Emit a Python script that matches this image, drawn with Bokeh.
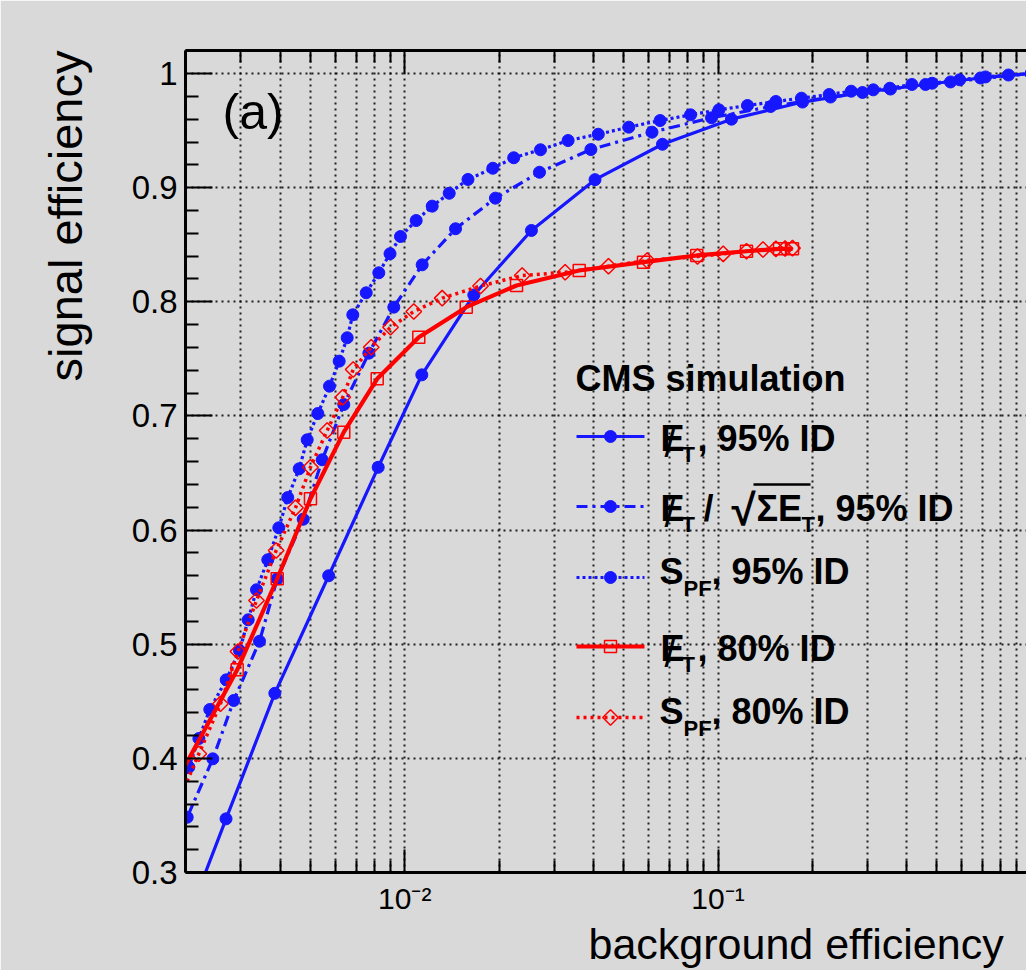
import math
from bokeh.plotting import figure
from bokeh.models import Range1d, LogAxis, FixedTicker, Label, CustomJSTickFormatter, Title
from bokeh.embed import file_html
from bokeh.resources import INLINE

# ---------------- data ----------------
# MET, 95% ID  (blue solid, filled circles)
met95_x = [0.0019, 0.00269, 0.00385, 0.00572, 0.00823, 0.01134, 0.01662, 0.02538,
           0.0405, 0.0665, 0.1104, 0.1861, 0.2892, 0.4595, 0.6884, 1.0]
met95_y = [0.239, 0.347, 0.457, 0.560, 0.655, 0.736, 0.806, 0.8625,
           0.907, 0.938, 0.960, 0.975, 0.9834, 0.9904, 0.9961, 1.0]

# MET / sqrt(SumET), 95% ID  (blue dash-dot, filled circles)
metsig95_x = [0.0019, 0.002022, 0.002441, 0.002847, 0.00344, 0.003918, 0.004743, 0.005454,
              0.006391, 0.007684, 0.009231, 0.01137, 0.01453, 0.01948, 0.02693, 0.03929,
              0.06157, 0.09535, 0.1472, 0.2286, 0.3553, 0.5522, 1.0]
metsig95_y = [0.331, 0.3484, 0.3996, 0.4507, 0.5026, 0.5573, 0.6095, 0.6616,
              0.7100, 0.7550, 0.7953, 0.8324, 0.8640, 0.8908, 0.9135, 0.9334,
              0.9486, 0.9612, 0.9711, 0.9794, 0.9864, 0.9926, 1.0]

# S_PF, 95% ID  (blue dotted, filled circles)
spf95_x = [0.0019, 0.002046, 0.002203, 0.002387, 0.002693, 0.00297, 0.003166, 0.003365,
           0.003656, 0.003964, 0.004234, 0.004605, 0.004884, 0.005281, 0.005754, 0.006178,
           0.006553, 0.006828, 0.007537, 0.008267, 0.008977, 0.009696, 0.01088, 0.01224,
           0.01387, 0.01592, 0.01911, 0.02228, 0.02713, 0.03323, 0.04149, 0.05191,
           0.06535, 0.08171, 0.1007, 0.1242, 0.1530, 0.1847, 0.2264, 0.2662,
           0.3131, 0.3535, 0.4158, 0.4826, 0.5907, 0.7141, 0.8455, 1.0]
spf95_y = [0.3666, 0.3923, 0.4174, 0.4428, 0.4688, 0.4945, 0.5214, 0.5477,
           0.5740, 0.6020, 0.6285, 0.6537, 0.6791, 0.7021, 0.7261, 0.7480,
           0.7685, 0.7886, 0.8079, 0.8254, 0.8421, 0.8572, 0.8712, 0.8838,
           0.8951, 0.9072, 0.9170, 0.9262, 0.9332, 0.9413, 0.9468, 0.9530,
           0.9588, 0.9638, 0.9682, 0.9720, 0.9755, 0.9784, 0.9816, 0.9845,
           0.9857, 0.9871, 0.9904, 0.9915, 0.9945, 0.9970, 0.9987, 1.0]

# MET, 80% ID  (red solid, open squares)
met80_x = [0.0019, 0.00292, 0.003918, 0.005003, 0.006391, 0.00817, 0.01109, 0.01572,
           0.02275, 0.03606, 0.05784, 0.08556, 0.1233, 0.1572, 0.1729]
met80_y = [0.3832, 0.4776, 0.5573, 0.6274, 0.6858, 0.7325, 0.7690, 0.7953,
           0.8143, 0.8274, 0.8347, 0.8406, 0.8443, 0.8464, 0.8464]

# S_PF, 80% ID  (red dotted, open diamonds)
spf80_x = [0.0019, 0.002203, 0.002582, 0.002937, 0.003365, 0.003888, 0.004481, 0.005003,
           0.005657, 0.006344, 0.006849, 0.007819, 0.00901, 0.01069, 0.01317, 0.01746,
           0.02371, 0.03252, 0.04472, 0.05943, 0.08602, 0.1039, 0.1233, 0.1392,
           0.1530, 0.1637, 0.1729]
spf80_y = [0.3631, 0.4040, 0.4478, 0.4936, 0.5383, 0.5821, 0.6195, 0.6551,
           0.6872, 0.7164, 0.7407, 0.7602, 0.7777, 0.7915, 0.8032, 0.8138,
           0.8230, 0.8259, 0.8312, 0.8362, 0.8397, 0.8420, 0.8443, 0.8458,
           0.8464, 0.8467, 0.8470]

# ticks
x_major_ticks = [0.01, 0.1]
x_tick_labels = ["10\u207b\u00b2", "10\u207b\u00b9"]
y_ticks = [0.3, 0.4, 0.5, 0.6, 0.7, 0.8, 0.9, 1.0]
y_tick_labels = ["0.3", "0.4", "0.5", "0.6", "0.7", "0.8", "0.9", "1"]

# ---------------- style ----------------
FONT = "Liberation Sans"
BG = "#d9d9d9"
BLUE = "#1616ff"
RED = "#ff0000"

DEC = 313.3
X10 = 404.2
FL, FB = 185, 872   # frame left / bottom in canvas pixels


def X(px):
    return 10 ** (-2 + (px - X10) / DEC)


def Y(py):
    return 0.3 + (FB - py) / 1141.4


p = figure(width=1026, height=970, x_axis_type="log",
           x_range=Range1d(X(FL), X(1026)), y_range=Range1d(0.3, Y(50)),
           output_backend="svg", toolbar_location=None,
           min_border_left=FL, min_border_right=0, min_border_top=50, min_border_bottom=970 - FB)
p.background_fill_color = BG
p.border_fill_color = BG
p.outline_line_color = None

x_minor = [m * 10.0 ** e for e in (-3, -2, -1) for m in range(2, 10)]
xticker = FixedTicker(ticks=x_major_ticks, minor_ticks=x_minor)
y_minor = [round(0.3 + 0.02 * i, 2) for i in range(37) if i % 5 != 0]
yticker = FixedTicker(ticks=y_ticks, minor_ticks=y_minor)


def style_axis(ax, maj=24, mnr=12):
    ax.axis_line_width = 3
    ax.axis_line_color = "black"
    ax.major_tick_in = maj
    ax.major_tick_out = 0
    ax.minor_tick_in = mnr
    ax.minor_tick_out = 0
    ax.major_tick_line_width = 2
    ax.minor_tick_line_width = 2
    ax.major_tick_line_color = "black"
    ax.minor_tick_line_color = "black"


xa = p.xaxis[0]
xa.ticker = xticker
xa.major_label_overrides = {v: s for v, s in zip(x_major_ticks, x_tick_labels)}
xa.major_label_text_font = FONT
xa.major_label_text_font_size = "30px"
xa.major_label_text_color = "black"
xa.major_label_standoff = 9
style_axis(xa, 23, 12)

top = LogAxis(ticker=xticker, formatter=CustomJSTickFormatter(code="return ''"))
style_axis(top, 23, 12)
p.add_layout(top, "above")

ya = p.yaxis[0]
ya.ticker = yticker
ya.major_label_overrides = {v: s for v, s in zip(y_ticks, y_tick_labels)}
style_axis(ya, 27, 13)
ya.major_label_text_font = FONT
ya.major_label_text_font_size = "33px"
ya.major_label_text_color = "black"
ya.major_label_standoff = 8

# axis titles (ROOT style: right-aligned at the end of the axes)
p.add_layout(Title(text="signal efficiency", align="right", text_font=FONT,
                   text_font_size="47px", text_font_style="normal",
                   text_color="black", standoff=73), "left")
p.add_layout(Title(text="background efficiency", align="left", offset=403,
                   text_font=FONT, text_font_size="43px", text_font_style="normal",
                   text_color="black", standoff=0), "below")

p.xgrid.ticker = xticker
p.ygrid.ticker = yticker
for g in (p.xgrid, p.ygrid):
    g.grid_line_color = "black"
    g.grid_line_dash = "2 4"
    g.grid_line_width = 2
    g.grid_line_alpha = 0.85
p.xgrid.minor_grid_line_color = "black"
p.xgrid.minor_grid_line_dash = "2 4"
p.xgrid.minor_grid_line_width = 2
p.xgrid.minor_grid_line_alpha = 0.85

# ---------------- curves ----------------
CS, SQ = 12, 12
p.line(met95_x, met95_y, color=BLUE, line_width=3.2)
p.scatter(met95_x, met95_y, marker="circle", size=CS, color=BLUE)

p.line(metsig95_x, metsig95_y, color=BLUE, line_width=3.2, line_dash="11 5 3 5")
p.scatter(metsig95_x, metsig95_y, marker="circle", size=CS, color=BLUE)

p.line(spf95_x, spf95_y, color=BLUE, line_width=3.2, line_dash="3 3")
p.scatter(spf95_x, spf95_y, marker="circle", size=CS, color=BLUE)

p.line(met80_x, met80_y, color=RED, line_width=4.2)
p.scatter(met80_x, met80_y, marker="square", size=SQ, fill_color=None,
          line_color=RED, line_width=1.5)

p.line(spf80_x, spf80_y, color=RED, line_width=3.5, line_dash="3 4")
p.scatter(spf80_x, spf80_y, marker="square", angle=math.pi / 4, size=11,
          fill_color=None, line_color=RED, line_width=1.5)

SHIFT = 0.33  # empirical baseline correction (fraction of font size)


# ---------------- texts inside the frame ----------------
def lab(px, py, text, size, bold=False, align="left"):
    py = py - SHIFT * size
    p.add_layout(Label(x=X(px), y=Y(py), text=text, text_font=FONT,
                       text_font_size=f"{size}px",
                       text_font_style="bold" if bold else "normal",
                       text_align=align, text_baseline="alphabetic",
                       text_color="black"))


lab(222, 128, "(a)", 50)
lab(575, 390, "CMS simulation", 36, bold=True)

# legend samples
LX0, LX1, LXM = 576, 644, 610
entries = [
    (436, BLUE, None, 3.2, "circle"),
    (506, BLUE, "11 5 3 5", 3.2, "circle"),
    (577, BLUE, "3 3", 3.2, "circle"),
    (646, RED, None, 4.2, "square"),
    (717, RED, "3 4", 3.5, "diamond"),
]
for (ly, col, dash, lw, mk) in entries:
    kw = dict(color=col, line_width=lw)
    if dash:
        kw["line_dash"] = dash
    p.line([X(LX0), X(LX1)], [Y(ly), Y(ly)], **kw)
    if mk == "circle":
        p.scatter([X(LXM)], [Y(ly)], marker="circle", size=CS, color=col)
    elif mk == "square":
        p.scatter([X(LXM)], [Y(ly)], marker="square", size=SQ, fill_color=None,
                  line_color=col, line_width=1.5)
    else:
        p.scatter([X(LXM)], [Y(ly)], marker="square", angle=math.pi / 4, size=11,
                  fill_color=None, line_color=col, line_width=1.5)


def met(px, py):
    # E with a slash through it (missing transverse energy)
    lab(px, py, "E", 36, bold=True)
    lab(px + 4, py + 6, "/", 40)
    lab(px + 21, py + 11, "T", 22, bold=True)


# entry 1
met(660, 450)
lab(697, 450, ", 95% ID", 36, bold=True)
# entry 2
met(660, 520)
lab(703, 520, "/", 36, bold=True)
lab(731, 524, "\u221a", 44, bold=True)
lab(756, 520, "\u03a3E", 36, bold=True)
lab(801, 531, "T", 22, bold=True)
lab(815, 520, ", 95% ID", 36, bold=True)
p.line([X(753), X(810)], [Y(484), Y(484)], color="black", line_width=2.5)
# entry 3
lab(659, 583, "S", 36, bold=True)
lab(683, 595, "PF", 22, bold=True)
lab(711, 583, ", 95% ID", 36, bold=True)
# entry 4
met(660, 660)
lab(697, 660, ", 80% ID", 36, bold=True)
# entry 5
lab(659, 723, "S", 36, bold=True)
lab(683, 735, "PF", 22, bold=True)
lab(711, 723, ", 80% ID", 36, bold=True)

open("out.html", "w").write(file_html(p, INLINE))
